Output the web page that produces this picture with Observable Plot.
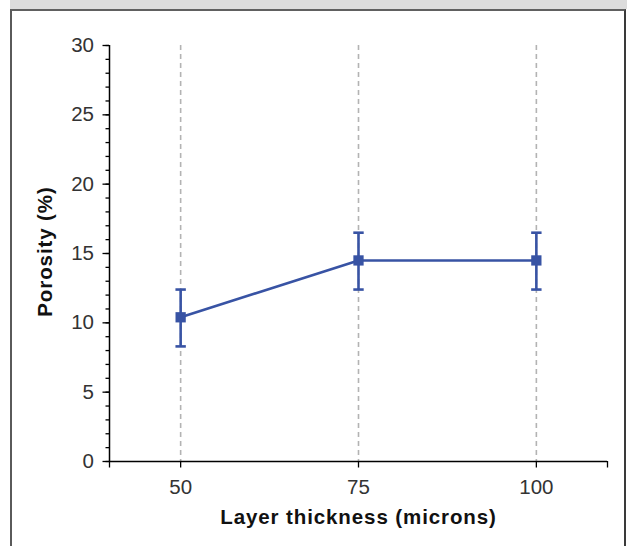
<!DOCTYPE html>
<html>
<head>
<meta charset="utf-8">
<script src="https://cdn.jsdelivr.net/npm/d3@7"></script>
<script src="https://cdn.jsdelivr.net/npm/@observablehq/plot@0.6"></script>
<style>
  html, body { margin: 0; padding: 0; background: #fff; width: 627px; height: 546px; overflow: hidden; }
  #band { position: absolute; left: 10px; top: 0; width: 617px; height: 9px; background: #dcdcdc; }
  #box { position: absolute; left: 10px; top: 9px; width: 616px; height: 560px; box-sizing: border-box;
         border-top: 2px solid #606060; border-left: 2px solid #5a5a5a; border-right: 2px solid #3a3a3a; }
  #chart { position: absolute; left: 0; top: 0; }
</style>
</head>
<body>
<div id="band"></div>
<div id="box"></div>
<div id="chart"></div>
<script>
const thickness = [50, 75, 100];
const porosity = [10.4, 14.5, 14.5];
const errLow = [8.3, 12.4, 12.4];
const errHigh = [12.4, 16.5, 16.5];
const yMajorTicks = [0, 5, 10, 15, 20, 25, 30];
const yMinorTicks = [0,1,2,3,4,5,6,7,8,9,10,11,12,13,14,15,16,17,18,19,20,21,22,23,24,25,26,27,28,29,30];
const xLabelTicks = [50, 75, 100];
const xEndTicks = [40, 110];
const xDomain = [40, 110];
const yDomain = [0, 30];
const xTitle = "Layer thickness (microns)";
const yTitle = "Porosity (%)";

const data = thickness.map((t, i) => ({t, p: porosity[i], lo: errLow[i], hi: errHigh[i]}));
const blue = "#3853a4";
const capSymbol = {
  draw(context, size) {
    const r = Math.sqrt(size / Math.PI);
    context.moveTo(-r, 0);
    context.lineTo(r, 0);
  }
};

const chart = Plot.plot({
  width: 627,
  height: 546,
  marginLeft: 109,
  marginRight: 20,
  marginTop: 45,
  marginBottom: 85,
  style: {fontFamily: "'Liberation Sans', Arial, sans-serif", background: "transparent", overflow: "visible"},
  x: {domain: xDomain, label: null},
  y: {domain: yDomain, label: null},
  marks: [
    Plot.ruleX(xLabelTicks, {x: d => d, stroke: "#b3b3b3", strokeWidth: 1.6, strokeDasharray: "5,4"}),
    Plot.axisY({ticks: yMinorTicks, tickSize: 3.5, tickFormat: () => "", stroke: "#000", strokeWidth: 1.3, label: null}),
    Plot.axisY({ticks: yMajorTicks, tickSize: 6.5, tickPadding: 9, stroke: "#000", strokeWidth: 1.3, fontSize: 20.5, fill: "#333", label: null}),
    Plot.axisX({ticks: xEndTicks, tickSize: 6.5, tickFormat: () => "", stroke: "#000", strokeWidth: 1.3, label: null}),
    Plot.axisX({ticks: xLabelTicks, tickSize: 6.5, tickPadding: 11, stroke: "#000", strokeWidth: 1.3, fontSize: 20.5, fill: "#333", label: null}),
    Plot.ruleX([xDomain[0]], {x: d => d, stroke: "#000", strokeWidth: 1.5}),
    Plot.ruleY([yDomain[0]], {y: d => d, stroke: "#000", strokeWidth: 1.5}),
    Plot.ruleX(data, {x: "t", y1: "lo", y2: "hi", stroke: blue, strokeWidth: 2.6}),
    Plot.dot(data, {x: "t", y: "lo", symbol: capSymbol, r: 5.2, stroke: blue, strokeWidth: 2.6, fill: "none"}),
    Plot.dot(data, {x: "t", y: "hi", symbol: capSymbol, r: 5.2, stroke: blue, strokeWidth: 2.6, fill: "none"}),
    Plot.line(data, {x: "t", y: "p", stroke: blue, strokeWidth: 2.6}),
    Plot.dot(data, {x: "t", y: "p", symbol: "square", r: 5.8, fill: blue, stroke: "none"}),
    Plot.text([xTitle], {frameAnchor: "bottom", textAnchor: "middle", text: d => d, dy: 62, fontSize: 20.5, fontWeight: "bold", fill: "#111"}),
    Plot.text([yTitle], {frameAnchor: "left", textAnchor: "middle", text: d => d, rotate: -90, dx: -64, dy: -2, fontSize: 20.5, fontWeight: "bold", fill: "#111"})
  ]
});
d3.select(chart).selectAll("text").each(function() {
  const t = this.textContent;
  if (t === xTitle || t === yTitle) {
    d3.select(this).style("font-size", "20.5px").style("font-weight", "bold").style("letter-spacing", "0.9px").style("fill", "#111");
  } else {
    d3.select(this).style("font-size", "20.5px").style("fill", "#333");
  }
});
document.getElementById("chart").appendChild(chart);
</script>
</body>
</html>
